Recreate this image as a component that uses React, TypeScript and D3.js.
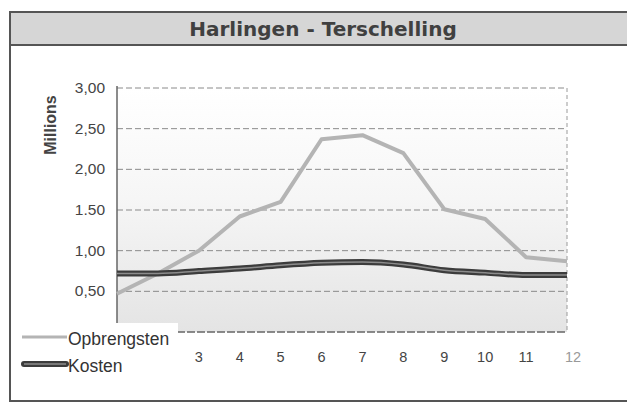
import { useRef, useEffect } from "react";
import * as d3 from "d3";

const months = ["1", "2", "3", "4", "5", "6", "7", "8", "9", "10", "11", "12"];
const opbrengsten = [0.47, 0.72, 1.0, 1.42, 1.6, 2.37, 2.42, 2.2, 1.51, 1.39, 0.92, 0.87];
const kosten = [0.72, 0.72, 0.75, 0.78, 0.82, 0.85, 0.86, 0.83, 0.76, 0.73, 0.7, 0.7];
const yTicks = [0, 0.5, 1, 1.5, 2, 2.5, 3];
const yTickLabels = ["", "0,50", "1,00", "1.50", "2,00", "2,50", "3,00"];
// labels 1 and 2 sit under the legend box in the original
const hiddenMonths = ["1", "2"];

const W = 627;
const H = 403;

const App = () => {
  const svgRef = useRef<SVGSVGElement | null>(null);

  useEffect(() => {
    if (!svgRef.current) return;
    const svg = d3.select(svgRef.current);
    svg.selectAll("*").remove();

    const font = "'Liberation Sans', Arial, sans-serif";
    const left = 117, right = 567, top = 88, bottom = 332;

    const x = d3.scalePoint<string>().domain(months).range([left, right]);
    const y = d3.scaleLinear().domain([0, 3]).range([bottom, top]);

    // background gradient for plot area
    const defs = svg.append("defs");
    const grad = defs.append("linearGradient")
      .attr("id", "plotbg")
      .attr("x1", 0).attr("y1", 0).attr("x2", 0).attr("y2", 1);
    grad.append("stop").attr("offset", "0%").attr("stop-color", "#ffffff");
    grad.append("stop").attr("offset", "45%").attr("stop-color", "#f6f6f6");
    grad.append("stop").attr("offset", "100%").attr("stop-color", "#e4e4e4");

    // outer frame
    svg.append("rect")
      .attr("x", 10).attr("y", 12)
      .attr("width", W).attr("height", 389)
      .attr("fill", "#ffffff")
      .attr("stroke", "#555").attr("stroke-width", 2);

    // title bar
    svg.append("rect")
      .attr("x", 10).attr("y", 12)
      .attr("width", W).attr("height", 33)
      .attr("fill", "#d6d6d6")
      .attr("stroke", "#555").attr("stroke-width", 2);
    svg.append("text")
      .attr("x", 323).attr("y", 36)
      .attr("text-anchor", "middle")
      .attr("font-family", "'DejaVu Sans', Verdana, sans-serif")
      .attr("font-size", 20)
      .attr("font-weight", 600)
      .attr("fill", "#404040")
      .text("Harlingen - Terschelling");

    // plot area
    svg.append("rect")
      .attr("x", left).attr("y", top)
      .attr("width", right - left).attr("height", bottom - top)
      .attr("fill", "url(#plotbg)");

    // gridlines
    svg.append("g")
      .selectAll("line")
      .data(yTicks.filter(d => d > 0))
      .enter()
      .append("line")
      .attr("x1", left).attr("x2", right)
      .attr("y1", d => y(d)).attr("y2", d => y(d))
      .attr("stroke", "#8a8a8a")
      .attr("stroke-width", 1)
      .attr("stroke-dasharray", "6,3");

    // right border
    svg.append("line")
      .attr("x1", right).attr("x2", right)
      .attr("y1", top).attr("y2", bottom)
      .attr("stroke", "#9a9a9a").attr("stroke-dasharray", "4,3");

    // axes lines
    svg.append("line")
      .attr("x1", left).attr("x2", left)
      .attr("y1", top - 2).attr("y2", bottom)
      .attr("stroke", "#666").attr("stroke-width", 1.5);
    svg.append("line")
      .attr("x1", left).attr("x2", right)
      .attr("y1", bottom).attr("y2", bottom)
      .attr("stroke", "#666").attr("stroke-width", 1.5)
      .attr("stroke-dasharray", "8,2");

    // y tick labels
    svg.append("g")
      .selectAll("text")
      .data(yTicks)
      .enter()
      .append("text")
      .attr("x", 105)
      .attr("y", d => y(d) + 5)
      .attr("text-anchor", "end")
      .attr("font-family", font)
      .attr("font-size", 15.5)
      .attr("fill", "#444")
      .text((_, i) => yTickLabels[i]);

    // x tick labels
    svg.append("g")
      .selectAll("text")
      .data(months.filter(m => !hiddenMonths.includes(m)))
      .enter()
      .append("text")
      .attr("x", d => (x(d) || 0) + (d === "12" ? 6 : 0))
      .attr("y", 362)
      .attr("text-anchor", "middle")
      .attr("font-family", font)
      .attr("font-size", 14.5)
      .attr("fill", d => (d === "12" ? "#999" : "#444"))
      .text(d => d);

    // y axis title
    svg.append("text")
      .attr("transform", "translate(56,125) rotate(-90)")
      .attr("text-anchor", "middle")
      .attr("font-family", font)
      .attr("font-size", 16)
      .attr("font-weight", "bold")
      .attr("fill", "#444")
      .text("Millions");

    const line = d3.line<number>()
      .x((_, i) => x(months[i]) || 0)
      .y(d => y(d));

    // Opbrengsten
    svg.append("path")
      .datum(opbrengsten)
      .attr("d", line)
      .attr("fill", "none")
      .attr("stroke", "#b4b4b4")
      .attr("stroke-width", 4)
      .attr("stroke-linejoin", "round");

    // Kosten
    const kostenLine = line.curve(d3.curveMonotoneX);
    svg.append("path")
      .datum(kosten)
      .attr("d", kostenLine)
      .attr("fill", "none")
      .attr("stroke", "#3c3c3c")
      .attr("stroke-width", 6);
    svg.append("path")
      .datum(kosten)
      .attr("d", kostenLine)
      .attr("fill", "none")
      .attr("stroke", "#8c8c8c")
      .attr("stroke-width", 1.5);

    // legend
    const lg = svg.append("g");
    lg.append("rect")
      .attr("x", 14).attr("y", 323)
      .attr("width", 164).attr("height", 60)
      .attr("fill", "#ffffff");
    lg.append("line")
      .attr("x1", 22).attr("x2", 67).attr("y1", 337).attr("y2", 337)
      .attr("stroke", "#b4b4b4").attr("stroke-width", 3);
    lg.append("line")
      .attr("x1", 24).attr("x2", 66).attr("y1", 364).attr("y2", 364)
      .attr("stroke", "#3c3c3c").attr("stroke-width", 6)
      .attr("stroke-linecap", "round");
    lg.append("line")
      .attr("x1", 24).attr("x2", 66).attr("y1", 364).attr("y2", 364)
      .attr("stroke", "#8c8c8c").attr("stroke-width", 1.5);
    lg.append("text")
      .attr("x", 68).attr("y", 345)
      .attr("font-family", font).attr("font-size", 17.5).attr("fill", "#333")
      .text("Opbrengsten");
    lg.append("text")
      .attr("x", 68).attr("y", 372)
      .attr("font-family", font).attr("font-size", 17.5).attr("fill", "#333")
      .text("Kosten");
  }, []);

  return (
    <svg
      ref={svgRef}
      width={W}
      height={H}
      style={{ position: "absolute", left: 0, top: 0, background: "#fff" }}
    ></svg>
  );
};

export default App;
